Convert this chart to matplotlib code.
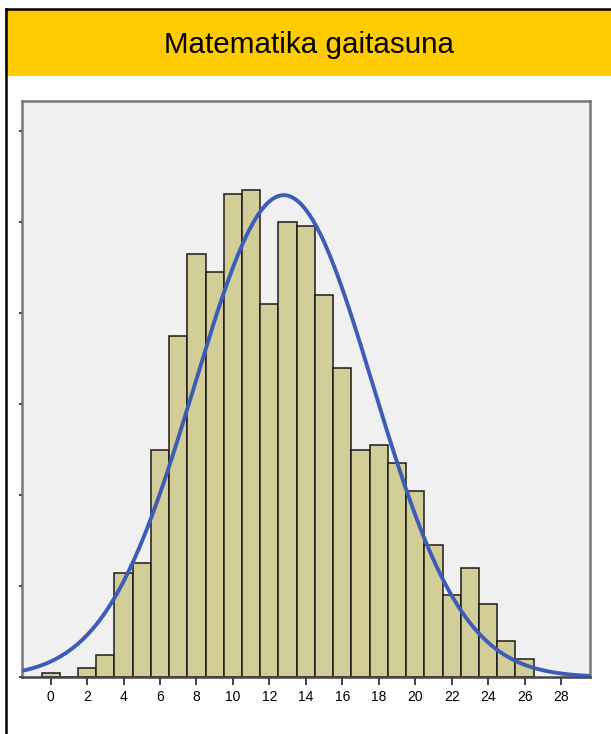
import numpy as np
import matplotlib.pyplot as plt
from matplotlib.lines import Line2D
from matplotlib.patches import Rectangle

# DATA
scores = list(range(0, 27))
counts = [1, 0, 2, 5, 23, 25, 50, 75, 93, 89, 106, 107, 82, 100, 99,
          84, 68, 50, 51, 47, 41, 29, 18, 24, 16, 8, 4]
x_ticks = list(range(0, 29, 2))
title = "Matematika gaitasuna"

plt.rcParams['font.family'] = ['Liberation Sans', 'DejaVu Sans']

fig = plt.figure(figsize=(6.11, 7.34), dpi=100)

# yellow header + black frame (left and top)
fig.patches.append(Rectangle((5 / 611, 1 - 76 / 734), 1 - 5 / 611, 66 / 734,
                             transform=fig.transFigure, facecolor="#ffcc00",
                             edgecolor="none", zorder=0))
fig.lines.append(Line2D([5.5 / 611, 5.5 / 611], [0, 1 - 9 / 734],
                        transform=fig.transFigure, color="black", lw=1.8))
fig.lines.append(Line2D([5.5 / 611, 1], [1 - 9 / 734, 1 - 9 / 734],
                        transform=fig.transFigure, color="black", lw=1.8))
fig.text(0.506, 1 - 45 / 734, title, ha="center", va="center", fontsize=21.3)

# HISTOGRAM
ax = fig.add_axes([22 / 611, 56.7 / 734, 567.5 / 611, 576.3 / 734])
ax.set_facecolor("#f0f0f0")
ax.bar(scores, counts, width=1.0, color="#d3ce97", edgecolor="#1a1a1a",
       linewidth=1.1, zorder=2)

# normal curve from data
vals = np.array(scores, dtype=float)
cnt = np.array(counts, dtype=float)
n = cnt.sum()
mean = (vals * cnt).sum() / n
std = np.sqrt((cnt * (vals - mean) ** 2).sum() / (n - 1))
xs = np.linspace(-1.6, 29.6, 400)
ys = n * np.exp(-0.5 * ((xs - mean) / std) ** 2) / (std * np.sqrt(2 * np.pi))
ax.plot(xs, ys, color="#3d5cb8", lw=2.8, zorder=3)

ax.set_xlim(-1.57, 29.56)
ax.set_ylim(0, 126.5)
ax.set_xticks(x_ticks)
ax.set_yticks(range(0, 121, 20))
ax.set_yticklabels([])
ax.tick_params(axis="x", length=6, width=1.2, color="#222222", labelsize=10, pad=3)
ax.tick_params(axis="y", length=2.5, width=1.2, color="#222222")
for side in ["left", "top", "right", "bottom"]:
    ax.spines[side].set_color("#777777")
    ax.spines[side].set_linewidth(1.8)
ax.spines["bottom"].set_color("#444444")

fig.savefig("out.png", dpi=100)
